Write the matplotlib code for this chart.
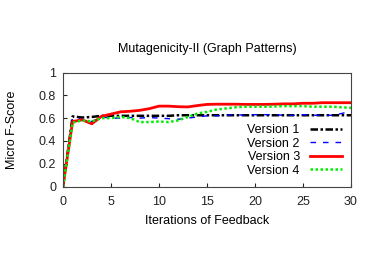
import numpy as np
import matplotlib
matplotlib.use("Agg")
import matplotlib.pyplot as plt

plt.rcParams['font.family'] = ['Liberation Sans', 'DejaVu Sans']

# iterations of feedback
iterations = list(range(0, 31))

# micro F-score per version
version1 = [0.0, 0.615, 0.605, 0.61, 0.62, 0.62, 0.62, 0.62, 0.62, 0.62, 0.62,
            0.62, 0.625, 0.625, 0.625, 0.625, 0.625, 0.625, 0.625, 0.625, 0.625,
            0.625, 0.625, 0.625, 0.625, 0.625, 0.625, 0.625, 0.625, 0.625, 0.625]
version2 = [0.0, 0.6, 0.59, 0.57, 0.61, 0.6, 0.6, 0.605, 0.6, 0.605, 0.6,
            0.595, 0.59, 0.6, 0.61, 0.62, 0.62, 0.625, 0.63, 0.625, 0.63,
            0.63, 0.63, 0.625, 0.625, 0.63, 0.625, 0.625, 0.625, 0.64, 0.66]
version3 = [0.0, 0.57, 0.585, 0.55, 0.615, 0.635, 0.655, 0.66, 0.668, 0.683, 0.705,
            0.705, 0.70, 0.698, 0.71, 0.72, 0.722, 0.722, 0.722, 0.72, 0.72,
            0.72, 0.722, 0.725, 0.725, 0.73, 0.73, 0.735, 0.735, 0.735, 0.735]
version4 = [0.0, 0.56, 0.58, 0.57, 0.6, 0.6, 0.61, 0.6, 0.565, 0.565, 0.57,
            0.565, 0.58, 0.61, 0.64, 0.655, 0.675, 0.685, 0.695, 0.7, 0.7,
            0.7, 0.702, 0.705, 0.705, 0.705, 0.7, 0.7, 0.7, 0.695, 0.69]

fig = plt.figure(figsize=(3.74, 2.62), dpi=100)
ax = fig.add_axes([63 / 374, 1 - 186.5 / 262, 288 / 374, 114 / 262])

ax.plot(iterations, version1, color='black', linestyle=(0, (3, 1, 1, 1)), linewidth=1.8, label='Version 1')
ax.plot(iterations, version2, color='#0000ff', linestyle=(0, (4, 5)), linewidth=1.0, label='Version 2')
ax.plot(iterations, version3, color='#ff0000', linestyle='-', linewidth=2.0, label='Version 3')
ax.plot(iterations, version4, color='#00ee00', linestyle=(0, (1, 1)), linewidth=1.8, label='Version 4')

ax.set_xlim(0, 30)
ax.set_ylim(0, 1)
ax.set_xticks([0, 5, 10, 15, 20, 25, 30])
ax.set_yticks([0, 0.2, 0.4, 0.6, 0.8, 1])
ax.set_yticklabels(['0', '0.2', '0.4', '0.6', '0.8', '1'])
ax.tick_params(direction='in', length=3, labelsize=9, colors='#222222', pad=5)
ax.tick_params(axis='x', pad=7)
for s in ax.spines.values():
    s.set_color('#444444')
    s.set_linewidth(0.8)

ax.set_title('Mutagenicity-II (Graph Patterns)', fontsize=9, pad=15)
ax.set_xlabel('Iterations of Feedback', fontsize=9, labelpad=5)
ax.set_ylabel('Micro F-Score', fontsize=9, labelpad=15)

ax.legend(loc='lower right', bbox_to_anchor=(1.0, 0.01), frameon=False, markerfirst=False,
          fontsize=9, handlelength=2.6, labelspacing=0.12, borderpad=0.2, handletextpad=0.8)

fig.savefig('out.png', dpi=100)
